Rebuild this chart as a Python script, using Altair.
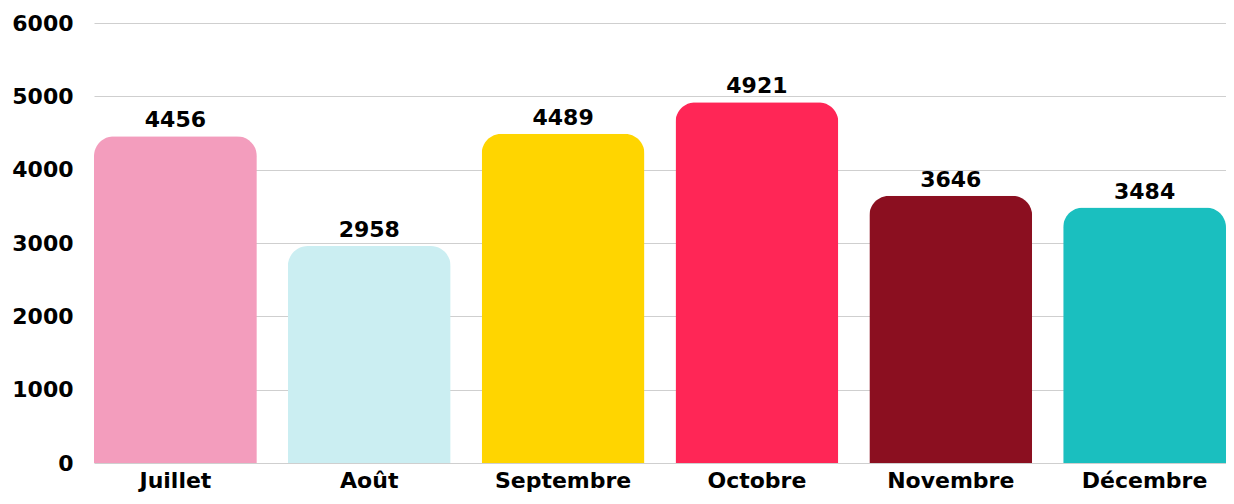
import altair as alt
import pandas as pd

months = ["Juillet", "Août", "Septembre", "Octobre", "Novembre", "Décembre"]
values = [4456, 2958, 4489, 4921, 3646, 3484]
colors = ["#F39DBD", "#CBEEF2", "#FFD500", "#FF2656", "#8B0F20", "#1ABFBF"]

df = pd.DataFrame({"mois": months, "valeur": values, "couleur": colors})

FONT = "DejaVu Sans"

base = alt.Chart(df).encode(
    x=alt.X("mois:N", sort=months,
            scale=alt.Scale(paddingInner=0.16, paddingOuter=0),
            axis=alt.Axis(title=None, labelAngle=0, labelFont=FONT, labelFontSize=22,
                          labelFontWeight="bold", labelColor="#000", ticks=False,
                          domain=False, labelPadding=7)),
    y=alt.Y("valeur:Q", scale=alt.Scale(domain=[0, 6000]),
            axis=alt.Axis(title=None, values=[0, 1000, 2000, 3000, 4000, 5000, 6000],
                          format="d",
                          labelFont=FONT, labelFontSize=22, labelFontWeight="bold",
                          labelColor="#000", ticks=False, domain=False, labelPadding=21,
                          gridColor="#cfcfcf", gridWidth=1)),
)

bars = base.mark_bar(cornerRadiusTopLeft=20, cornerRadiusTopRight=20).encode(
    color=alt.Color("couleur:N", scale=None)
)

labels = base.mark_text(baseline="bottom", dy=-4, font=FONT, fontSize=22,
                        fontWeight="bold", color="#000").encode(text="valeur:Q")

chart = (bars + labels).properties(
    width=1132, height=440,
    autosize="none",
    padding={"left": 86, "top": 15, "right": 0, "bottom": 33},
).configure_view(stroke=None)

chart.save("out.html", embed_options={"renderer": "svg", "actions": False})
